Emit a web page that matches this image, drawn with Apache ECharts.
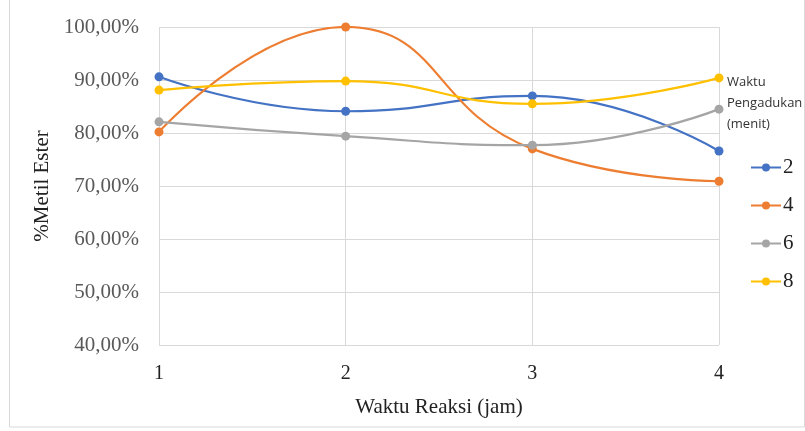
<!DOCTYPE html>
<html><head><meta charset="utf-8">
<script src="https://cdn.jsdelivr.net/npm/echarts@6/dist/echarts.min.js"></script>
<style>html,body{margin:0;padding:0;background:#fff}#c{width:805px;height:431px}</style>
</head><body><div id="c"></div>
<script>
const categories = [1, 2, 3, 4];
const seriesNames = ['2', '4', '6', '8'];
const s2 = [90.6, 84.1, 87.0, 76.6];
const s4 = [80.2, 100.0, 77.0, 70.9];
const s6 = [82.1, 79.4, 77.7, 84.5];
const s8 = [88.1, 89.8, 85.5, 90.4];
const colors = ['#4472C4', '#ED7D31', '#A5A5A5', '#FFC000'];
const allVals = [s2, s4, s6, s8];

const chart = echarts.init(document.getElementById('c'));
const serif = '"Liberation Serif", "DejaVu Serif", serif';
chart.setOption({
  animation: false,
  color: colors,
  grid: {left: 159, right: 86, top: 27, bottom: 86},
  xAxis: {
    type: 'value', min: 1, max: 4, interval: 1,
    name: 'Waktu Reaksi (jam)', nameLocation: 'middle', nameGap: 52,
    nameTextStyle: {fontFamily: serif, fontSize: 21, color: '#222'},
    axisLine: {show: false}, axisTick: {show: false},
    axisLabel: {fontFamily: serif, fontSize: 20, color: '#222', margin: 19},
    splitLine: {show: true, lineStyle: {color: '#d9d9d9', width: 1}}
  },
  yAxis: {
    type: 'value', min: 40, max: 100, interval: 10,
    name: '%Metil Ester', nameLocation: 'middle', nameGap: 104,
    nameTextStyle: {fontFamily: serif, fontSize: 21, color: '#222'},
    axisLine: {show: false}, axisTick: {show: false},
    axisLabel: {fontFamily: serif, fontSize: 21, color: '#595959', margin: 20,
      formatter: v => v.toFixed(2).replace('.', ',') + '%'},
    splitLine: {show: true, lineStyle: {color: '#d9d9d9', width: 1}}
  },
  legend: {
    orient: 'vertical', left: 745, top: 152, itemGap: 17,
    itemWidth: 30, itemHeight: 10,
    data: seriesNames,
    textStyle: {fontFamily: serif, fontSize: 21, color: '#222', padding: [0, 0, 0, -3]}
  },
  graphic: [
    {type: 'text', left: 727, top: 72, style: {text: 'Waktu\nPengadukan\n(menit)', fontFamily: '"Open Sans", "Noto Sans", sans-serif', fontSize: 13, lineHeight: 21, fill: '#333'}},
    {type: 'rect', shape: {x: 9.5, y: -1, width: 795, height: 428}, style: {fill: 'none', stroke: '#d9d9d9', lineWidth: 1}}
  ],
  series: seriesNames.map((n, i) => ({
    name: n, type: 'line', smooth: 0.5,
    symbol: 'circle', symbolSize: 9,
    lineStyle: {width: 2.2},
    data: categories.map((c, j) => [c, allVals[i][j]])
  }))
});
</script></body></html>
